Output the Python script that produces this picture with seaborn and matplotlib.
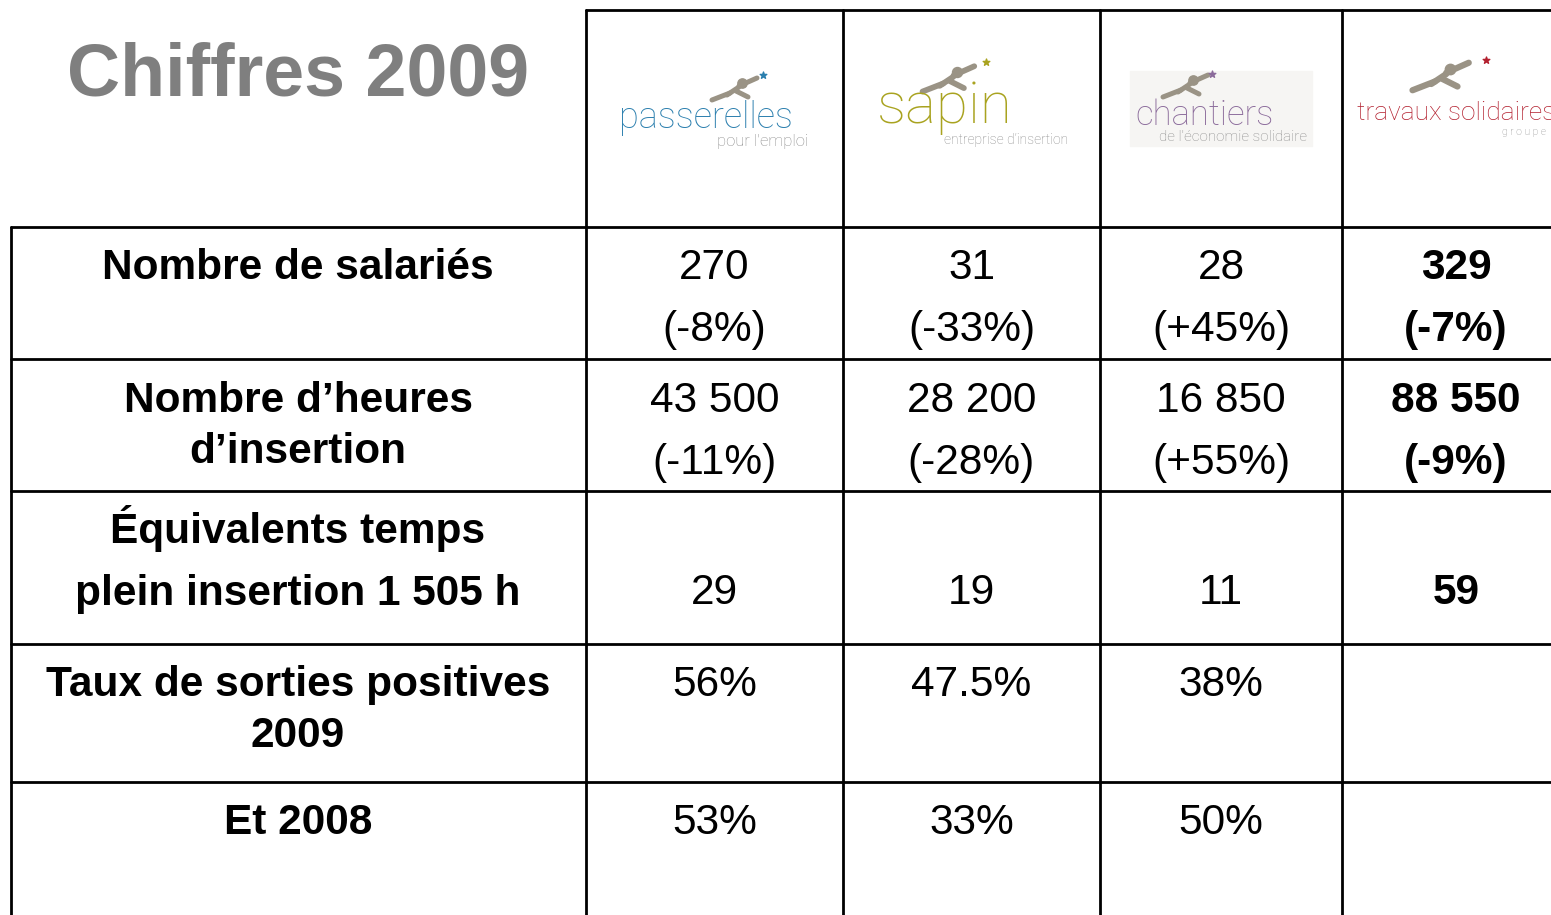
import numpy as np
import matplotlib.pyplot as plt
import seaborn as sns

# table contents
companies = ["passerelles", "sapin", "chantiers", "travaux solidaires"]
subtitles = ["pour l'emploi", "entreprise d’insertion", "de l'économie solidaire", "g r o u p e"]
brand_colors = ["#2b7fae", "#a9a320", "#8b6b9b", "#b3202f"]

row_labels = [
    ["Nombre de salariés"],
    ["Nombre d’heures", "d’insertion"],
    ["Équivalents temps", "plein insertion 1 505 h"],
    ["Taux de sorties positives", "2009"],
    ["Et 2008"],
]
nb_salaries = ["270", "31", "28", "329"]
var_salaries = ["(-8%)", "(-33%)", "(+45%)", "(-7%)"]
nb_heures = ["43 500", "28 200", "16 850", "88 550"]
var_heures = ["(-11%)", "(-28%)", "(+55%)", "(-9%)"]
etp = ["29", "19", "11", "59"]
sorties_2009 = ["56%", "47.5%", "38%", ""]
sorties_2008 = ["53%", "33%", "50%", ""]

sns.set_theme(style="white")
plt.rcParams['font.family'] = ['Liberation Sans', 'DejaVu Sans']

fig = plt.figure(figsize=(15.51, 9.15), dpi=100)
ax = fig.add_axes([0, 0, 1, 1])
ax.set_xlim(0, 1551)
ax.set_ylim(915, 0)
ax.axis("off")

col_edges = [586, 843, 1100, 1342, 1570]
row_edges = [227, 359, 491, 644, 782, 915]
col_centers = [(a + b) / 2 for a, b in zip(col_edges[:-1], col_edges[1:])]
label_x = 298

# grid
lw = 2
ax.plot([586, 1551], [10, 10], color="black", lw=lw)
for y in row_edges[:-1]:
    ax.plot([11, 1551], [y, y], color="black", lw=lw)
ax.plot([11, 11], [227, 915], color="black", lw=lw)
for x in col_edges[:-1]:
    ax.plot([x, x], [10, 915], color="black", lw=lw)

# title
ax.text(label_x, 95, "Chiffres 2009", ha="center", va="baseline",
        fontsize=53, fontweight="bold", color="#7f7f7f")

# logos
logo_head = [(742, 83), (957, 72), (1193, 80), (1450, 69)]
logo_scale = [1.0, 1.15, 1.0, 1.25]
star_off = [(21, -8), (25, -9), (19, -6), (29, -7)]
main_pos = [(706, 128, 26, "center"), (945, 123, 42, "center"), (1205, 125, 25, "center"), (1357, 120, 19, "left")]
sub_pos = [(808, 146, 12, "right"), (1068, 144, 10, "right"), (1307, 141, 11, "right"), (1502, 135, 7.5, "left")]
runner = "#9a9385"
logo_font = ["Roboto", "DejaVu Sans"]

ax.add_patch(plt.Rectangle((1130, 71), 182, 75, color="#f6f5f3", zorder=0))
for i, name in enumerate(companies):
    hx, hy = logo_head[i]
    s = logo_scale[i]
    ax.scatter([hx], [hy], s=45 * s, color=runner, zorder=3)
    strokes = [((-3, 3), (15, -5)), ((-3, 4), (-15, 12)), ((-12, 10), (-30, 17)), ((-6, 8), (6, 14))]
    for (x0, y0), (x1, y1) in strokes:
        ax.plot([hx + s * x0, hx + s * x1], [hy + s * y0, hy + s * y1],
                color=runner, lw=3.6 * s, solid_capstyle="round", zorder=3)
    sx, sy = star_off[i]
    ax.scatter([hx + s * sx], [hy + s * sy], marker="*", s=25, color=brand_colors[i], zorder=3)
    mx, my, mfs, mha = main_pos[i]
    ax.text(mx, my, name, ha=mha, va="baseline", fontsize=mfs,
            family=logo_font, fontweight="light", color=brand_colors[i])
    tx, ty, tfs, tha = sub_pos[i]
    ax.text(tx, ty, subtitles[i], ha=tha, va="baseline", fontsize=tfs,
            family=logo_font, fontweight="light", color="#8c8c8c")

# row labels
label_baselines = [[279], [412, 463], [543, 605], [696, 747], [834]]
for lines, ys in zip(row_labels, label_baselines):
    for txt, y in zip(lines, ys):
        ax.text(label_x, y, txt, ha="center", va="baseline", fontsize=30.5,
                fontweight="bold", color="black")

# values
value_rows = [
    (nb_salaries, 279), (var_salaries, 341),
    (nb_heures, 412), (var_heures, 474),
    (etp, 604),
    (sorties_2009, 696),
    (sorties_2008, 834),
]
for values, y in value_rows:
    for j, (cx, v) in enumerate(zip(col_centers, values)):
        ax.text(cx, y, v, ha="center", va="baseline", fontsize=30.5,
                fontweight="bold" if j == 3 else "normal", color="black")

fig.savefig("out.png", dpi=100)
